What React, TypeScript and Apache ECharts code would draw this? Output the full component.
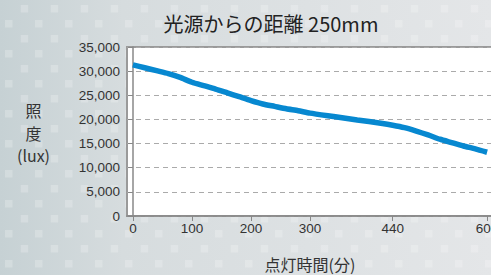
import React, { useEffect, useRef } from "react";
import * as echarts from "echarts";

const minutes = [0, 20, 40, 60, 80, 100, 120, 140, 160, 180, 200, 220, 240, 260, 280, 300, 340, 380, 420, 440, 460, 480, 500, 520, 540, 560, 580, 600];
const lux = [31300, 30700, 30100, 29500, 28700, 27700, 27000, 26300, 25500, 24700, 23900, 23200, 22700, 22200, 21800, 21300, 20600, 19900, 19200, 18800, 18300, 17600, 16800, 15900, 15200, 14500, 13900, 13200];
const xTickValues = [0, 100, 200, 300, 440, 600];
const titleText = "光源からの距離 250mm";
const yAxisTitle = "照\n度\n(lux)";
const xAxisTitle = "点灯時間(分)";

const NUM_FONT = "'Liberation Sans', Arial, sans-serif";
const JP_FONT = "'Noto Sans CJK JP', 'Noto Sans', sans-serif";

function buildPattern() {
  const els: any[] = [];
  for (let r = 0; r < 20; r++) {
    const y = 5 + r * 15;
    const off = r % 2 === 0 ? 20.7 : 5;
    for (let x = off; x < 500; x += 30) {
      els.push({
        type: "rect",
        z: -5,
        silent: true,
        shape: { x, y, width: 7.5, height: 7.5 },
        style: { fill: "rgba(255,255,255,0.22)" },
      });
    }
  }
  return els;
}

export default function App() {
  const ref = useRef<HTMLDivElement>(null);
  useEffect(() => {
    if (!ref.current) return;
    const chart = echarts.init(ref.current, null, { renderer: "svg" });
    chart.setOption({
      animation: false,
      backgroundColor: {
        type: "linear",
        x: 0, y: 0, x2: 1, y2: 0,
        colorStops: [
          { offset: 0, color: "#c6d1d4" },
          { offset: 0.25, color: "#d6dcde" },
          { offset: 1, color: "#e4e6e8" },
        ],
      },
      graphic: [
        ...buildPattern(),
        {
          type: "text",
          x: 271,
          y: 23.5,
          z: 10,
          style: {
            text: titleText,
            fill: "#222",
            font: `20px ${JP_FONT}`,
            textAlign: "center",
            textVerticalAlign: "middle",
          },
        },
        {
          type: "text",
          x: 33.5,
          y: 132.5,
          z: 10,
          style: {
            text: yAxisTitle,
            fill: "#333",
            font: `16px ${JP_FONT}`,
            textAlign: "center",
            textVerticalAlign: "middle",
            lineHeight: 22.5,
          },
        },
        {
          type: "text",
          x: 310,
          y: 264,
          z: 10,
          style: {
            text: xAxisTitle,
            fill: "#333",
            font: `16px ${JP_FONT}`,
            textAlign: "center",
            textVerticalAlign: "middle",
          },
        },
      ],
      grid: {
        left: 127,
        top: 47,
        width: 366,
        height: 169,
        show: true,
        backgroundColor: "#ffffff",
        borderColor: "#9a9a9a",
        borderWidth: 2,
        outerBoundsMode: "none",
        containLabel: false,
      },
      xAxis: {
        type: "value",
        min: -10,
        max: 610,
        axisLine: { show: true, onZero: false, lineStyle: { color: "#888", width: 1.5 } },
        axisTick: { show: true, customValues: xTickValues, length: 5, lineStyle: { color: "#888" } },
        axisLabel: {
          customValues: xTickValues,
          color: "#333",
          fontFamily: NUM_FONT,
          fontSize: 13.5,
          margin: 5,
        },
        splitLine: { show: false },
      },
      yAxis: {
        type: "value",
        min: 0,
        max: 35000,
        interval: 5000,
        axisLine: { show: true, lineStyle: { color: "#888", width: 1.5 } },
        axisTick: { show: true, length: 5, lineStyle: { color: "#888" } },
        axisLabel: {
          color: "#333",
          fontFamily: NUM_FONT,
          fontSize: 13.5,
          margin: 7,
          formatter: (v: number) => v.toLocaleString("en-US"),
        },
        splitLine: { show: true, lineStyle: { color: "#aaa", type: [5, 4], width: 1 } },
      },
      series: [
        {
          type: "line",
          data: minutes.map((m, i) => [m, lux[i]]),
          showSymbol: false,
          smooth: 0.2,
          lineStyle: { color: "#0788d0", width: 5.5 },
          z: 5,
        },
      ],
    });
    return () => chart.dispose();
  }, []);
  return <div ref={ref} style={{ position: "fixed", left: 0, top: 0, width: 491, height: 275 }} />;
}
